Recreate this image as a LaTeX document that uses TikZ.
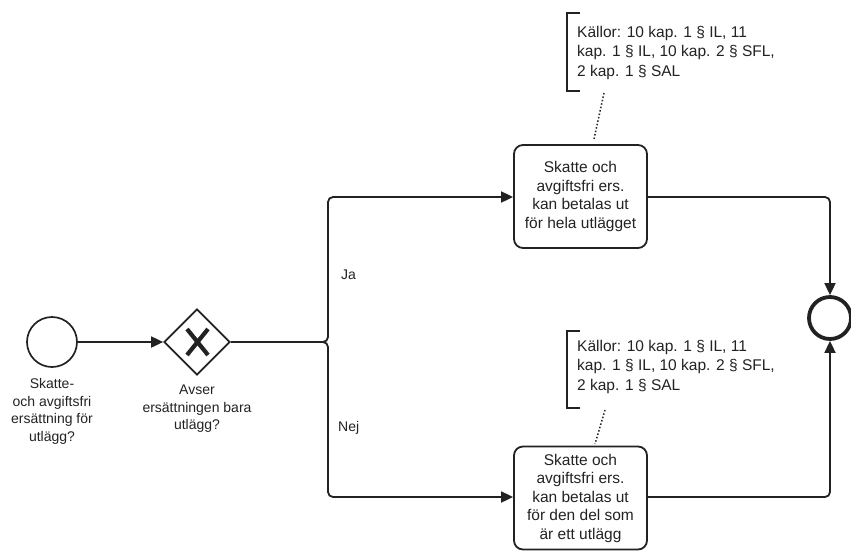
\documentclass[tikz,border=0pt]{standalone}
\usepackage{fontspec}
\setmainfont{Liberation Sans}
\usetikzlibrary{arrows.meta,shapes.geometric}
\definecolor{ink}{HTML}{222222}
\begin{document}
\begin{tikzpicture}[x=1pt,y=-1pt,
  every node/.style={text=ink},
  tip/.style={-{Triangle[length=12pt,width=11pt]}},
  flow/.style={draw=ink, line width=1.8pt, rounded corners=5pt, tip},
  task/.style={draw=ink, line width=1.8pt, rounded corners=9pt, minimum width=133pt, minimum height=103pt, align=center, inner sep=2pt, font=\fontsize{15.5}{18.5}\selectfont},
  lbl/.style={align=center, inner sep=0pt, font=\fontsize{14}{17.7}\selectfont},
  note/.style={align=left, anchor=north west, inner sep=0pt, font=\fontsize{15.5}{19.5}\selectfont},
  edgelbl/.style={anchor=west, inner sep=0pt, font=\fontsize{14}{16}\selectfont},
  assoc/.style={draw=ink, line width=1.5pt, dotted}]
\useasboundingbox (0,0) rectangle (851,550);
% start event
\node[circle, draw=ink, line width=1.7pt, minimum size=50pt, inner sep=0pt] (start) at (52,342) {};
\node[lbl, anchor=north] (startlbl) at (52,378) {Skatte-\\och avgiftsfri\\ersättning för\\utlägg?};
% gateway
\node[diamond, draw=ink, line width=1.7pt, minimum width=66pt, minimum height=66pt, inner sep=0pt] (gw) at (197,342) {};
\draw[ink, line width=4.2pt] (187,329) -- (208,355) (208,329) -- (187,355);
\node[lbl, anchor=north] (gwlbl) at (197,384.5) {Avser\\ersättningen bara\\utlägg?};
% tasks
\node[task] (t1) at (580.5,196.5) {Skatte och\\avgiftsfri ers.\\kan betalas ut\\för hela utlägget};
\node[task] (t2) at (580.5,498) {Skatte och\\avgiftsfri ers.\\kan betalas ut\\för den del som\\är ett utlägg};
% end event
\node[circle, draw=ink, line width=3.8pt, minimum size=42pt, inner sep=0pt] (end) at (830,318) {};
% flows
\draw[draw=ink, line width=1.8pt, tip] (start) -- (gw);
\coordinate (split) at (328,342);
\draw[flow] (gw.east) -- (split) -- (328,197) -- (t1.west |- 0,197);
\draw[flow] (gw.east) -- (split) -- (328,497) -- (t2.west |- 0,497);
\draw[flow] (t1.east |- 0,197) -- (830,197) -- (end.north);
\draw[flow] (t2.east |- 0,497) -- (830,497) -- (end.south);
\node[edgelbl] (ja) at (341,275) {Ja};
\node[edgelbl] (nej) at (338,428) {Nej};
% annotations
\node[note] (n1) at (577,26) {Källor: 10 kap. 1 § IL, 11\\kap. 1 § IL, 10 kap. 2 § SFL,\\2 kap. 1 § SAL};
\draw[ink, line width=1.7pt] (580,13) -- (567,13) -- (567,91) -- (580,91);
\coordinate (a1) at (604,93);
\coordinate (b1) at (594,139);
\draw[assoc] (a1) -- (b1);
\node[note] (n2) at (577,340) {Källor: 10 kap. 1 § IL, 11\\kap. 1 § IL, 10 kap. 2 § SFL,\\2 kap. 1 § SAL};
\draw[ink, line width=1.7pt] (580,331) -- (567,331) -- (567,408) -- (580,408);
\coordinate (a2) at (605,410);
\coordinate (b2) at (595,444);
\draw[assoc] (a2) -- (b2);
\end{tikzpicture}
\end{document}
